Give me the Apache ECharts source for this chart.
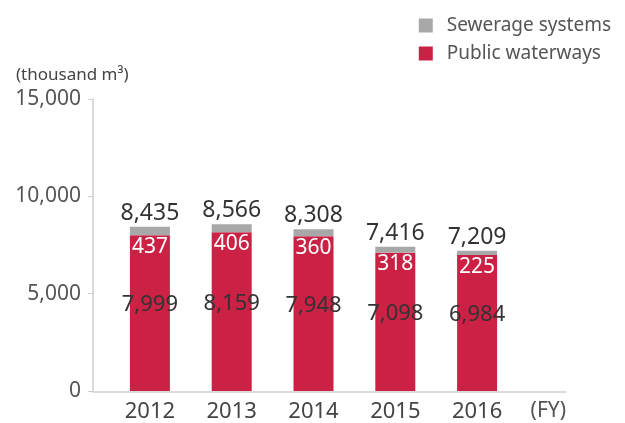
<!DOCTYPE html>
<html>
<head>
<meta charset="utf-8">
<script src="https://cdn.jsdelivr.net/npm/echarts@6/dist/echarts.min.js"></script>
<style>
  html, body { margin: 0; padding: 0; background: #fff; }
  #chart { width: 625px; height: 423px; }
</style>
</head>
<body>
<div id="chart"></div>
<script>
var years = ['2012', '2013', '2014', '2015', '2016'];
var publicWaterways = [7999, 8159, 7948, 7098, 6984];
var sewerageSystems = [437, 406, 360, 318, 225];
var totals = [8435, 8566, 8308, 7416, 7209];
var yTicks = [0, 5000, 10000, 15000];

var font = '"Noto Sans", "Open Sans", sans-serif';
var axisGray = '#cfcfcf';

function fmt(v) {
  return v.toLocaleString('en-US');
}

var chart = echarts.init(document.getElementById('chart'));

var option = {
  animation: false,
  backgroundColor: '#fff',
  textStyle: { fontFamily: font },
  title: {
    text: '(thousand m\u00b3)',
    left: 11,
    top: 62,
    textStyle: { fontFamily: font, fontSize: 17, fontWeight: 'normal', color: '#444' }
  },
  legend: {
    data: ['Sewerage systems', 'Public waterways'],
    orient: 'vertical',
    right: 9,
    top: 11,
    itemWidth: 14,
    itemHeight: 14,
    itemGap: 9,
    icon: 'rect',
    textStyle: { fontFamily: font, fontSize: 19, color: '#555', padding: [0, 0, 0, 9] }
  },
  // grid 0 holds the bars, grid 1 only carries the long x axis line
  grid: [
    { left: 109, right: 107, top: 99, bottom: 31 },
    { left: 93, right: 59, top: 99, bottom: 31 }
  ],
  xAxis: [
    {
      type: 'category',
      gridIndex: 0,
      data: years,
      axisLine: { show: false },
      axisTick: { show: false },
      axisLabel: {
        margin: 10,
        fontFamily: font,
        fontSize: 22,
        color: '#444'
      }
    },
    {
      type: 'value',
      gridIndex: 1,
      min: 0,
      max: 1,
      name: '(FY)',
      nameLocation: 'end',
      nameGap: 0,
      nameTextStyle: {
        align: 'right',
        verticalAlign: 'top',
        padding: [9, 0, 0, 0],
        fontFamily: font,
        fontSize: 21,
        color: '#555'
      },
      splitLine: { show: false },
      axisTick: { show: false },
      axisLabel: { show: false },
      axisLine: { show: true, lineStyle: { color: axisGray, width: 1.5 } }
    }
  ],
  yAxis: [
    {
      type: 'value',
      gridIndex: 0,
      offset: 16,
      min: yTicks[0],
      max: yTicks[yTicks.length - 1],
      interval: 5000,
      splitLine: { show: false },
      axisLine: { show: true, lineStyle: { color: axisGray, width: 1.5 } },
      axisTick: { show: true, length: 5, lineStyle: { color: axisGray } },
      axisLabel: {
        formatter: function (v) { return fmt(v); },
        margin: 12,
        fontFamily: font,
        fontSize: 21,
        color: '#555'
      }
    },
    {
      type: 'value',
      gridIndex: 1,
      show: false
    }
  ],
  series: [
    {
      name: 'Public waterways',
      type: 'bar',
      stack: 'total',
      barWidth: 40,
      itemStyle: { color: '#cb2144' },
      label: {
        show: true,
        position: 'inside',
        offset: [0, -8],
        formatter: function (p) { return fmt(p.value); },
        fontFamily: font,
        fontSize: 22,
        color: '#333'
      },
      data: publicWaterways
    },
    {
      name: 'Sewerage systems',
      type: 'bar',
      stack: 'total',
      barWidth: 40,
      itemStyle: { color: '#a8a8a8' },
      label: {
        show: true,
        position: 'bottom',
        distance: 1,
        formatter: function (p) { return p.value; },
        fontFamily: font,
        fontSize: 21,
        color: '#fff'
      },
      data: sewerageSystems
    },
    {
      name: 'Total',
      type: 'bar',
      stack: 'total',
      barWidth: 40,
      itemStyle: { color: 'transparent' },
      label: {
        show: true,
        position: 'top',
        distance: 2,
        formatter: function (p) { return fmt(totals[p.dataIndex]); },
        fontFamily: font,
        fontSize: 23,
        color: '#333'
      },
      data: [0, 0, 0, 0, 0]
    }
  ]
};

chart.setOption(option);
</script>
</body>
</html>
